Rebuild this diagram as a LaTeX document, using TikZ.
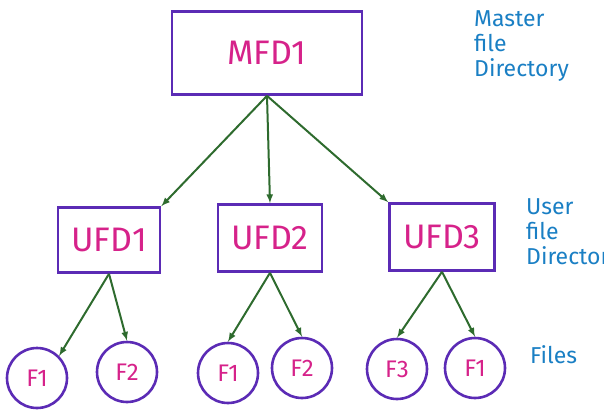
\documentclass[tikz,border=0pt]{standalone}
\usepackage{fontspec}
\setmainfont{Fira Sans}
\usetikzlibrary{positioning}
\definecolor{boxpurple}{HTML}{5B2BB5}
\definecolor{txtpink}{HTML}{D6228A}
\definecolor{arrgreen}{HTML}{2E6B2E}
\definecolor{notblue}{HTML}{1A7FC4}
\tikzset{
  dir/.style={draw=boxpurple,line width=2.6pt,text=txtpink,font=\fontsize{34}{38}\selectfont},
  file/.style={circle,draw=boxpurple,line width=2.6pt,text=txtpink,minimum size=60pt,inner sep=0pt,font=\fontsize{24}{28}\selectfont},
  link/.style={-latex,draw=arrgreen,line width=2pt},
  note/.style={text=notblue,align=left,font=\fontsize{23}{25}\selectfont}
}
\begin{document}
\begin{tikzpicture}[x=1pt,y=-1pt]
  \useasboundingbox (0,0) rectangle (604,413);
  % directories
  \node[dir,minimum width=190pt,minimum height=83pt] (mfd) at (267,53) {MFD1};
  \node[dir,minimum width=102pt,minimum height=65pt] (ufd1) at (109,240) {UFD1};
  \node[dir,minimum width=104pt,minimum height=67pt] (ufd2) at (270,238) {UFD2};
  \node[dir,minimum width=105pt,minimum height=67pt] (ufd3) at (442,237) {UFD3};
  % files
  \node[file] (f11) at (37,378) {F1};
  \node[file] (f12) at (127,372) {F2};
  \node[file] (f21) at (228,373) {F1};
  \node[file] (f22) at (302,368) {F2};
  \node[file] (f33) at (397,369) {F3};
  \node[file] (f31) at (475,368) {F1};
  % arrows
  \draw[link] (mfd.south) -- (ufd1.north east);
  \draw[link] (mfd.south) -- (ufd2.north);
  \draw[link] (mfd.south) -- (ufd3.north west);
  \draw[link] (ufd1.south) -- (f11.north east);
  \draw[link] (ufd1.south) -- (f12.north);
  \draw[link] (ufd2.south) -- (f21.north);
  \draw[link] (ufd2.south) -- (f22.north);
  \draw[link] (ufd3.south) -- (f33.north);
  \draw[link] (ufd3.south) -- (f31.north);
  % notes
  \node[note,anchor=north west,inner sep=0pt] (nmaster) at (474,10) {Master\\file\\Directory};
  \node[note,anchor=north west,inner sep=0pt] (nuser) at (526,198) {User\\file\\Director};
  \node[note,anchor=west,inner sep=0pt] (nfiles) at (530,355) {Files};
\end{tikzpicture}
\end{document}
